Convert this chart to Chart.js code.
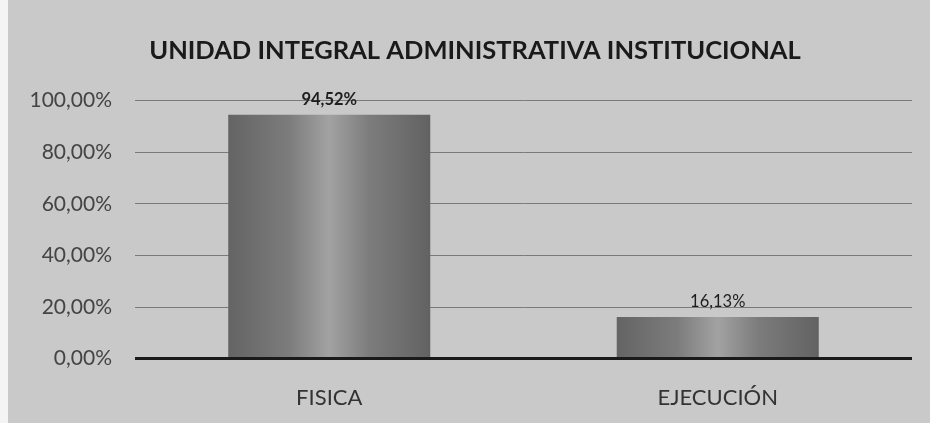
<!DOCTYPE html>
<html>
<head>
<meta charset="utf-8">
<script src="https://cdn.jsdelivr.net/npm/chart.js@4/dist/chart.umd.min.js"></script>
<style>
  html, body { margin: 0; padding: 0; background: #f4f4f4; }
  #wrap { position: absolute; left: 8px; top: 0; width: 922px; height: 423px; background: #c9c9c9; }
</style>
</head>
<body>
<div id="wrap"><canvas id="myChart" width="922" height="423"></canvas></div>
<script>
'use strict';
let categories = ['FISICA', 'EJECUCIÓN'];
let percentValues = [94.52, 16.13];
let valueLabels = ['94,52%', '16,13%'];
let chartTitle = 'UNIDAD INTEGRAL ADMINISTRATIVA INSTITUCIONAL';

let ctx = document.getElementById('myChart').getContext('2d');

function barGradient(context) {
  let chart = context.chart;
  let xScale = chart.scales.x;
  if (!xScale || !chart.chartArea) {
    return '#858585';
  }
  let center = xScale.getPixelForValue(context.dataIndex);
  let half = (chart.chartArea.right - chart.chartArea.left) / categories.length * 0.52 / 2;
  let grad = chart.ctx.createLinearGradient(center - half, 0, center + half, 0);
  grad.addColorStop(0, '#646464');
  grad.addColorStop(0.3, '#7c7c7c');
  grad.addColorStop(0.5, '#a2a2a2');
  grad.addColorStop(0.7, '#7c7c7c');
  grad.addColorStop(1, '#626262');
  return grad;
}

// writes the percent above every bar
let valueLabelPlugin = {
  id: 'valueLabels',
  afterLayout(chart) {
    // y labels are wider than the narrowed axis box, let them show
    chart.scales.y.left = 0;
  },
  afterDatasetsDraw(chart) {
    let meta = chart.getDatasetMeta(0);
    let c = chart.ctx;
    c.save();
    c.fillStyle = '#1e1e1e';
    c.textAlign = 'center';
    c.textBaseline = 'bottom';
    meta.data.forEach(function(bar, i) {
      c.font = (i === 0 ? 'bold ' : '') + '16.5px Lato';
      c.fillText(valueLabels[i], bar.x, bar.y - 7);
    });
    c.restore();
  }
};

let myChartObj = {
  type: 'bar',
  data: {
    labels: categories,
    datasets: [{
      data: percentValues,
      backgroundColor: barGradient,
      borderWidth: 0,
      barPercentage: 0.52,
      categoryPercentage: 1
    }]
  },
  options: {
    responsive: false,
    animation: false,
    layout: { padding: { left: 30, right: 18, top: 0, bottom: -6 } },
    scales: {
      y: {
        min: 0,
        max: 100,
        afterFit: function(axis) { axis.width = 97; },
        ticks: {
          stepSize: 20,
          color: '#444',
          font: { family: 'Lato', size: 21 },
          padding: 23,
          callback: function(v) { return v + ',00%'; }
        },
        grid: {
          color: function(c) { return c.tick.value === 0 ? '#1a1a1a' : '#7a7a7a'; },
          lineWidth: function(c) { return c.tick.value === 0 ? 3 : 1; },
          drawTicks: false
        },
        border: { display: false }
      },
      x: {
        ticks: {
          color: '#333',
          font: { family: 'Lato', size: 22 },
          padding: 18
        },
        grid: { display: false },
        border: { display: false }
      }
    },
    plugins: {
      legend: { display: false },
      tooltip: { enabled: false },
      title: {
        display: true,
        text: chartTitle,
        color: '#1a1a1a',
        font: { family: 'Lato', size: 25.5, weight: 'bold' },
        padding: { top: 35, bottom: 35 }
      }
    }
  },
  plugins: [valueLabelPlugin]
};

const myChart = new Chart(ctx, myChartObj);
</script>
</body>
</html>
